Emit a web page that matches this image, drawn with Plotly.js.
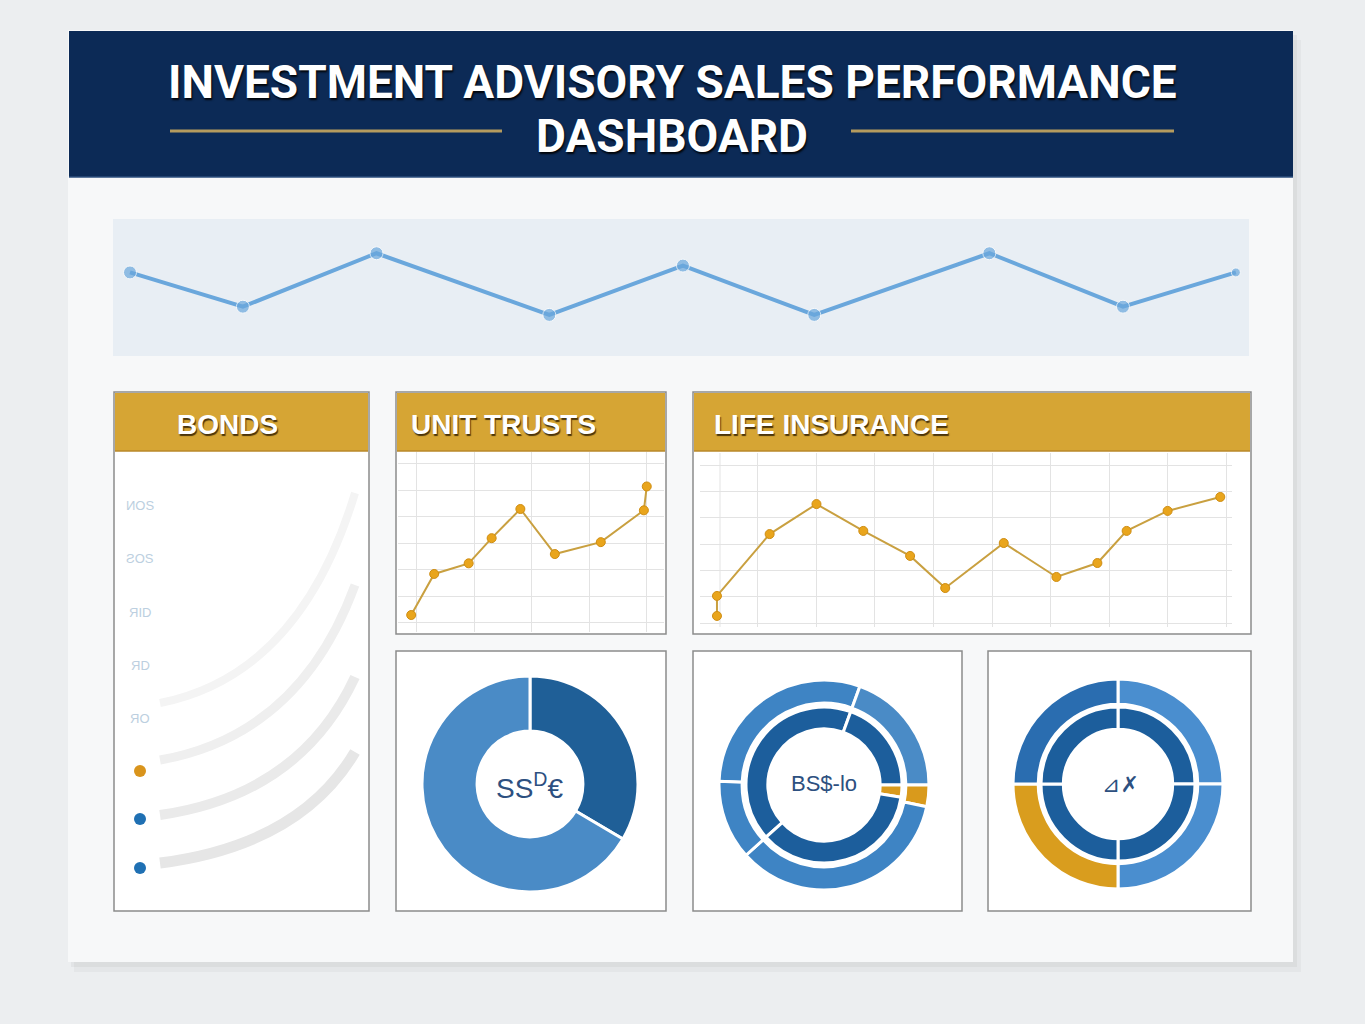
<!DOCTYPE html>
<html>
<head>
<meta charset="utf-8">
<script src="https://cdn.plot.ly/plotly-3.0.1.min.js"></script>
<style>body{margin:0;background:#eceef0}</style>
</head>
<body>
<div id="dash" style="width:1365px;height:1024px"></div>
<script>
var W = 1365, H = 1024;
function X(p) { return p / W; }
function Y(p) { return 1 - p / H; }

// headline trend, by week
var trendWeeks = [1, 5.9, 11.7, 19.2, 25, 30.7, 38.3, 44.1, 49];
var trendValues = [61, 36, 75, 30, 66, 30, 75, 36, 61];

// unit trusts
var utDays = [0, 4, 10, 14, 19, 25, 33, 40.5, 41];
var utSales = [3, 18.5, 22.5, 32, 43, 26, 30.5, 42.5, 51.5];

// life insurance
var liMonths = [0.3, 0.3, 1.2, 2, 2.8, 3.6, 4.2, 5.2, 6.1, 6.8, 7.3, 8, 8.9];
var liSales = [2.7, 10.3, 33.8, 45.2, 35, 25.5, 13.3, 30.4, 17.5, 22.8, 35, 42.6, 47.9];

// donuts
var mixLabels = ['Equity', 'Balanced'];
var mixValues = [33.5, 66.5];
var outer2Labels = ['Bonds', 'Equity', 'Gold', 'Balanced', 'Cash'];
var outer2Values = [108, 70, 12, 126, 44];
var inner2Labels = ['Bonds', 'Equity', 'Gold', 'Balanced'];
var inner2Values = [152, 70, 9, 129];
var quarterLabels = ['Q1', 'Q2', 'Q3', 'Q4'];
var outer3Values = [25, 25, 25, 25];
var inner3Values = [25, 25, 25, 25];

// bonds legend
var bondLabels = ['ИOS', 'ƧOS', 'ЯID', 'ЯD', 'ЯO'];

var gold = '#d6a534';
var blueLight = '#4a8bc6';
var blueMid = '#3e84c4';
var blueDark = '#1c5e9c';

var lineGold = {color: '#c9a040', width: 2};
var dotGold = {color: '#e9a51c', size: 9, line: {color: '#cf8d12', width: 1}};

var data = [
  {x: trendWeeks, y: trendValues, type: 'scatter', mode: 'lines+markers',
   line: {color: '#6aa7dc', width: 4},
   marker: {color: '#6aa7dc', size: [13, 13, 13, 13, 13, 13, 13, 13, 9]},
   hoverinfo: 'skip', xaxis: 'x', yaxis: 'y'},
  {x: utDays, y: utSales, type: 'scatter', mode: 'lines+markers',
   line: lineGold, marker: dotGold, hoverinfo: 'skip', xaxis: 'x2', yaxis: 'y2'},
  {x: liMonths, y: liSales, type: 'scatter', mode: 'lines+markers',
   line: lineGold, marker: dotGold, hoverinfo: 'skip', xaxis: 'x3', yaxis: 'y3'},
  {type: 'pie', labels: mixLabels, values: mixValues, sort: false, direction: 'clockwise',
   rotation: 0, hole: 0.49, textinfo: 'none', hoverinfo: 'skip', showlegend: false,
   marker: {colors: ['#1f5f97', blueLight], line: {color: '#ffffff', width: 3}},
   domain: {x: [X(422), X(638)], y: [Y(892), Y(676)]}},
  {type: 'pie', labels: outer2Labels, values: outer2Values, sort: false, direction: 'clockwise',
   rotation: 272, hole: 0.78, textinfo: 'none', hoverinfo: 'skip', showlegend: false,
   marker: {colors: [blueMid, blueLight, '#d99a1c', blueMid, blueMid], line: {color: '#ffffff', width: 3}},
   domain: {x: [X(719), X(929)], y: [Y(890), Y(680)]}},
  {type: 'pie', labels: inner2Labels, values: inner2Values, sort: false, direction: 'clockwise',
   rotation: 228, hole: 0.72, textinfo: 'none', hoverinfo: 'skip', showlegend: false,
   marker: {colors: [blueDark, blueDark, '#d99a1c', blueDark], line: {color: '#ffffff', width: 3}},
   domain: {x: [X(746), X(902)], y: [Y(863), Y(707)]}},
  {type: 'pie', labels: quarterLabels, values: outer3Values, sort: false, direction: 'clockwise',
   rotation: 0, hole: 0.76, textinfo: 'none', hoverinfo: 'skip', showlegend: false,
   marker: {colors: ['#4a8ecf', '#4a8ecf', '#d99d1e', '#2a6db0'], line: {color: '#ffffff', width: 3}},
   domain: {x: [X(1013), X(1223)], y: [Y(889), Y(679)]}},
  {type: 'pie', labels: quarterLabels, values: inner3Values, sort: false, direction: 'clockwise',
   rotation: 0, hole: 0.71, textinfo: 'none', hoverinfo: 'skip', showlegend: false,
   marker: {colors: [blueDark, blueDark, blueDark, blueDark], line: {color: '#ffffff', width: 3}},
   domain: {x: [X(1041), X(1195)], y: [Y(861), Y(707)]}}
];

function hidden(domain, range) {
  return {domain: domain, range: range, visible: false, fixedrange: true};
}
function gridAxis(domain, range, tick0, dtick) {
  return {domain: domain, range: range, tick0: tick0, dtick: dtick, showgrid: true,
          gridcolor: '#e3e3e3', gridwidth: 1, zeroline: false, showticklabels: false,
          ticks: '', showline: false, fixedrange: true};
}

var shapes = [];
function rect(x0, y0, x1, y1, fill, line) {
  shapes.push({type: 'rect', xref: 'paper', yref: 'paper', layer: 'below',
    x0: X(x0), x1: X(x1), y0: Y(y1), y1: Y(y0), fillcolor: fill,
    line: line || {width: 0}});
}
function seg(x0, y0, x1, y1, color, width) {
  shapes.push({type: 'line', xref: 'paper', yref: 'paper', layer: 'below',
    x0: X(x0), x1: X(x1), y0: Y(y0), y1: Y(y1), line: {color: color, width: width}});
}
function arc(x0, y0, cx, cy, x1, y1, color, width) {
  shapes.push({type: 'path', xref: 'paper', yref: 'paper', layer: 'below',
    path: 'M ' + X(x0) + ',' + Y(y0) + ' Q ' + X(cx) + ',' + Y(cy) + ' ' + X(x1) + ',' + Y(y1),
    line: {color: color, width: width}});
}
function dot(x, y, r, color) {
  shapes.push({type: 'circle', xref: 'paper', yref: 'paper', layer: 'below',
    x0: X(x - r), x1: X(x + r), y0: Y(y + r), y1: Y(y - r), fillcolor: color, line: {width: 0}});
}

// card and shadow
rect(74, 40, 1301, 972, 'rgba(0,0,0,0.03)');
rect(71, 35, 1297, 967, 'rgba(0,0,0,0.04)');
rect(68, 30, 1293, 962, '#f7f8f9');
rect(69, 31, 1293, 177, '#0c2a56');
seg(69, 177, 1293, 177, '#2d4f7e', 1.5);
seg(170, 131, 502, 131, '#b59b5e', 3);
seg(851, 131, 1174, 131, '#b59b5e', 3);

// trend strip
rect(113, 219, 1249, 356, '#e8eef4');

// panels
var border = {color: '#8c8c8c', width: 1.5};
rect(114, 392, 369, 911, '#ffffff', border);
rect(396, 392, 666, 634, '#ffffff', border);
rect(693, 392, 1251, 634, '#ffffff', border);
rect(396, 651, 666, 911, '#ffffff', border);
rect(693, 651, 962, 911, '#ffffff', border);
rect(988, 651, 1251, 911, '#ffffff', border);
rect(115, 393, 368, 451, gold);
rect(397, 393, 665, 451, gold);
rect(694, 393, 1250, 451, gold);
seg(115, 451, 368, 451, '#b8882a', 1.5);
seg(397, 451, 665, 451, '#b8882a', 1.5);
seg(694, 451, 1250, 451, '#b8882a', 1.5);
seg(720, 453, 720, 627, '#e3e3e3', 1);

// bonds arcs and legend dots
arc(160, 703, 300, 675, 355, 493, '#f4f4f4', 8);
arc(160, 760, 300, 735, 355, 585, '#efefef', 9);
arc(160, 815, 300, 795, 355, 677, '#eaeaea', 10);
arc(160, 863, 300, 845, 355, 752, '#e6e6e6', 11);
dot(140, 771, 6, '#d9941c');
dot(140, 819, 6, '#1f70b3');
dot(140, 868, 6, '#1f70b3');

var whiteTitle = {color: '#ffffff', family: 'Liberation Sans, Arial, sans-serif', size: 28,
                  weight: 700, shadow: '1px 2px 1px rgba(60,40,5,0.9)'};
var headFont = {color: '#ffffff', family: 'Roboto, Liberation Sans, sans-serif',
                size: 46, weight: 700, shadow: '1px 2px 2px rgba(0,0,0,0.9)'};
var centerFont = {color: '#2d5080', family: 'Liberation Sans, sans-serif', size: 28};

function note(x, y, text, font, anchor) {
  return {xref: 'paper', yref: 'paper', x: X(x), y: Y(y), text: text, showarrow: false,
          font: font, xanchor: anchor || 'center', yanchor: 'middle'};
}

var annotations = [
  note(672, 82, 'INVESTMENT ADVISORY SALES PERFORMANCE', headFont),
  note(672, 136, 'DASHBOARD', headFont),
  note(228, 424, 'BONDS', whiteTitle),
  note(409, 424, 'UNIT TRUSTS', whiteTitle, 'left'),
  note(712, 424, 'LIFE INSURANCE', whiteTitle, 'left'),
  note(530, 786, 'SS<sup>D</sup>€', centerFont),
  note(824, 783, 'BS$-lo', {color: '#2d5080', family: 'Liberation Sans, sans-serif', size: 22}),
  note(1120, 784, '⊿✗', {color: '#2d5080', family: 'DejaVu Sans, sans-serif', size: 22})
];
var bondY = [505, 558, 612, 665, 718];
bondLabels.forEach(function (t, i) {
  annotations.push(note(140, bondY[i], t, {color: '#bccfe0', family: 'Liberation Sans, sans-serif', size: 13}));
});

var layout = {
  width: W, height: H,
  margin: {l: 0, r: 0, t: 0, b: 0},
  paper_bgcolor: '#eceef0',
  plot_bgcolor: 'rgba(0,0,0,0)',
  showlegend: false,
  xaxis: hidden([X(113), X(1249)], [0.262, 49.57]),
  yaxis: hidden([Y(356), Y(219)], [0, 100]),
  xaxis2: gridAxis([X(398), X(664)], [-2.3, 44], 1, 10),
  yaxis2: gridAxis([Y(632), Y(452)], [-3.4, 64.5], 0, 10),
  xaxis3: gridAxis([X(700), X(1232)], [0.01, 9.1], 1, 1),
  yaxis3: gridAxis([Y(627), Y(453)], [-1.5, 64.6], 0, 10),
  shapes: shapes,
  annotations: annotations
};

Plotly.newPlot('dash', data, layout, {staticPlot: true, displayModeBar: false});
</script>
</body>
</html>
